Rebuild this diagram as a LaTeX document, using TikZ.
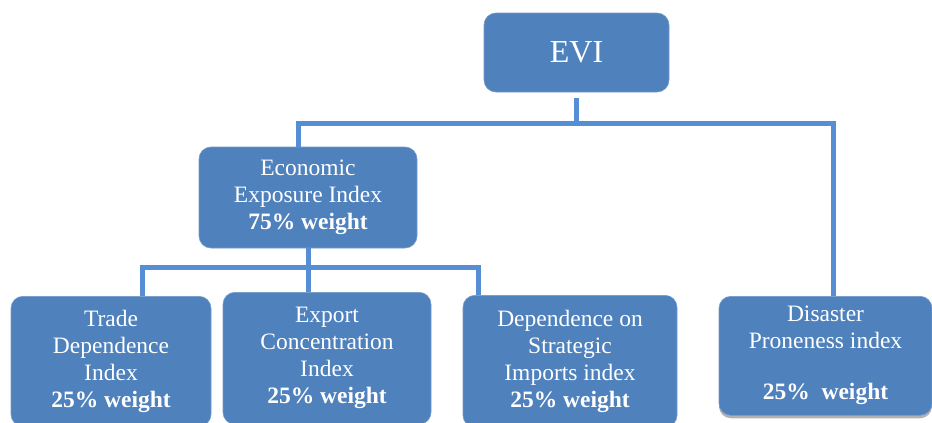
\documentclass[tikz,border=0pt]{standalone}
\usepackage{fontspec}
\setmainfont{Liberation Serif}
\newfontfamily\timesfont{Liberation Serif}
\usetikzlibrary{shadows}
\definecolor{boxblue}{RGB}{79,129,189}
\definecolor{linkblue}{RGB}{85,142,213}

\begin{document}
\begin{tikzpicture}[x=1pt,y=1pt,
    box/.style={rectangle,rounded corners=12pt,fill=boxblue,draw=boxblue!80!white,line width=0.6pt,
                text=white,inner sep=0pt,align=center,font=\timesfont\fontsize{23.5}{27}\selectfont},
    link/.style={draw=linkblue,line width=5pt}]

  \useasboundingbox (0,0) rectangle (932,-423);
  \clip (0,0) rectangle (932,-423);

  \node[box,minimum width=185,minimum height=79,font=\timesfont\fontsize{32}{36}\selectfont] (evi) at (576.5,-52.5) {EVI};
  \node[box,minimum width=218,minimum height=101] (eco) at (308,-197.5)
       {Economic\\Exposure Index\\\textbf{75\% weight}};

  \node[box,anchor=north,minimum width=200,minimum height=130] (trade) at (111,-296)
       {Trade\\Dependence\\Index\\\textbf{25\% weight}};
  \node[box,anchor=north,minimum width=208,minimum height=132] (export) at (327,-292)
       {Export\\Concentration\\Index\\\textbf{25\% weight}};
  \node[box,anchor=north,minimum width=214,minimum height=132] (dep) at (570,-295)
       {Dependence on\\Strategic\\Imports index\\\textbf{25\% weight}};
  \node[box,anchor=north,minimum width=213,minimum height=119,
        drop shadow={shadow xshift=0pt,shadow yshift=-3pt,fill=gray!60,opacity=1}] (dis) at (825.5,-296)
       {Disaster\\Proneness index\\[24pt]\textbf{25\%~ weight}};

  % upper bar
  \coordinate (bar1) at (0,-123);
  \draw[link] ([yshift=-6pt]evi.south) -- (evi.south |- bar1);
  \draw[link] ([xshift=-10pt]eco.north) -- ([xshift=-10pt]eco.north |- bar1) -| ([xshift=7.5pt]dis.north);

  % lower bar
  \coordinate (bar2) at (0,-267);
  \draw[link] (eco.south) -- (eco.south |- export.north);
  \draw[link] ([xshift=31pt]trade.north) -- ([xshift=31pt]trade.north |- bar2) -| ([xshift=-92pt]dep.north);

\end{tikzpicture}
\end{document}
